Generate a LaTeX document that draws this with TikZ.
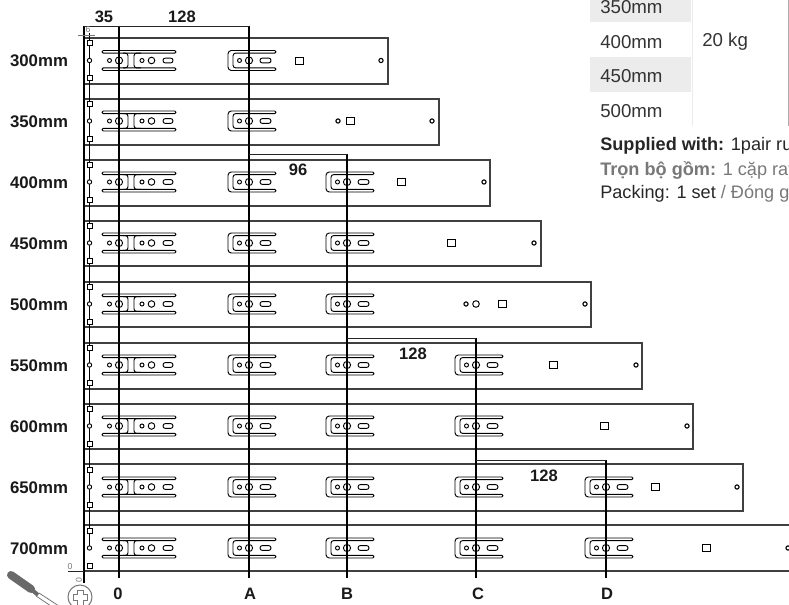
\documentclass[tikz,border=0pt]{standalone}
\usepackage{fontspec}
\setmainfont{Liberation Sans}
\usetikzlibrary{positioning,calc}
\definecolor{bandgray}{RGB}{236,236,236}
\definecolor{softgray}{RGB}{120,120,120}
\definecolor{tooldark}{RGB}{105,105,105}

\begin{document}
\begin{tikzpicture}[
    x=0.75pt, y=-0.75pt,
    rail/.style={draw=black!75, line width=0.85pt},
    dimline/.style={draw=black, line width=0.85pt},
    dimthin/.style={draw=black!85, line width=0.55pt},
    thinpart/.style={draw=black, line width=0.7pt},
    rowlabel/.style={font=\bfseries\fontsize{12.6}{14}\selectfont, text=black!90, inner sep=0pt},
    dimlabel/.style={font=\bfseries\fontsize{12.4}{14}\selectfont, text=black!90, inner sep=0pt},
    tabletext/.style={font=\fontsize{14}{16}\selectfont, text=black!80, inner sep=0pt, anchor=west},
    note/.style={font=\fontsize{13.6}{16}\selectfont, text=black!85, inner sep=0pt, anchor=west},
    faint/.style={font=\fontsize{6.5}{7}\selectfont, text=softgray, inner sep=0pt},
    % the two first brackets of every rail
    frontslot/.pic={
        \draw[thinpart, rounded corners=0.9pt, fill=white] (-17,-10) rectangle (57,-7.4);
        \draw[thinpart, rounded corners=0.9pt, fill=white] (-17,7.4) rectangle (57,10);
        \draw[thinpart, rounded corners=2pt] (4,-7.4) -- (9,-7.4) -- (9,7.4) -- (4,7.4);
        \draw[thinpart, rounded corners=2pt] (22,-7.4) -- (15,-7.4) -- (15,7.4) -- (22,7.4);
        \draw[thinpart] (-9.5,0) circle (2);
        \draw[thinpart] (0,0) circle (3.6);
        \draw[thinpart] (23,0) circle (2);
        \draw[thinpart] (32.5,0) circle (3.3);
        \draw[thinpart, rounded corners=1.7pt] (44,-2.4) rectangle (54,2.4);
    },
    % the bracket at each of A, B, C, D
    holeslot/.pic={
        \draw[thinpart, rounded corners=2.5pt] (20,-10) -- (-21,-10) -- (-21,10) -- (20,10)
            [rounded corners=0.9pt] -- (27,10) -- (27,7.4) -- (20,7.4)
            [rounded corners=2pt] -- (-16,7.4) -- (-16,-7.4) -- (20,-7.4)
            [rounded corners=0.9pt] -- (27,-7.4) -- (27,-10) -- cycle;
        \draw[thinpart] (-9.5,0) circle (2);
        \draw[thinpart] (0,0) circle (3.6);
        \draw[thinpart, rounded corners=1.7pt] (11,-2.4) rectangle (22,2.4);
    },
    % the three marks at the left end of a rail
    endmarks/.pic={
        \draw[thinpart, fill=white] (-2.5,-20) rectangle (2.5,-15);
        \draw[thinpart, fill=white] (0,0) circle (2.2);
        \draw[thinpart, fill=white] (-2.5,15) rectangle (2.5,20);
    },
    squarehole/.pic={\draw[thinpart, fill=white] (-4,-3.5) rectangle (4,3.5);},
    endhole/.pic={\draw[draw=black, line width=0.85pt] (0,0) circle (2.1);},
    ]
    \clip (0,0) rectangle (789,605);

    %% table on the top right
    \fill[bandgray] (590,0) rectangle (691,22);
    \fill[bandgray] (590,57) rectangle (691,92);
    \draw[bandgray, line width=0.75pt] (692.5,0) -- (692.5,126);
    \draw[softgray!60, line width=0.75pt] (788.5,0) -- (788.5,126);
    \node[tabletext] (t350) at (600,7) {350mm};
    \node[tabletext] (t400) at (600,42) {400mm};
    \node[tabletext] (t450) at (600,76) {450mm};
    \node[tabletext] (t500) at (600,111) {500mm};
    \node[tabletext] (load) at (702,42) {20 kg};
    \node[note] (supplied) at (600,146) {\textbf{Supplied with:} 1pair ru};
    \node[note, text=softgray] (tronbo) at (600,170) {\textbf{Trọn bộ gồm:} 1 cặp ray};
    \node[note] (packing) at (600,194) {Packing: 1 set \textcolor{softgray}{/ Đóng g}};

    %% rails
    \draw[rail] (84,38) rectangle (388,84);
    \draw[rail] (84,99) rectangle (439,145);
    \draw[rail] (84,160) rectangle (490,206);
    \draw[rail] (84,221) rectangle (541,266);
    \draw[rail] (84,282) rectangle (591,327);
    \draw[rail] (84,343) rectangle (642,389);
    \draw[rail] (84,404) rectangle (693,449);
    \draw[rail] (84,464) rectangle (743,511);
    \draw[rail] (84,525) rectangle (800,571);

    %% row labels
    \node[rowlabel] (r300) at (39,60.5) {300mm};
    \node[rowlabel] (r350) at (39,121.5) {350mm};
    \node[rowlabel] (r400) at (39,182.5) {400mm};
    \node[rowlabel] (r450) at (39,243.5) {450mm};
    \node[rowlabel] (r500) at (39,304.5) {500mm};
    \node[rowlabel] (r550) at (39,365.5) {550mm};
    \node[rowlabel] (r600) at (39,426.5) {600mm};
    \node[rowlabel] (r650) at (39,487.5) {650mm};
    \node[rowlabel] (r700) at (39,548.5) {700mm};

    %% thin line through the left end marks
    \coordinate (marktop) at (89.5,33);
    \coordinate (markend) at (89.5,548);
    \draw[thinpart] (marktop) -- (markend);
    \pic at (89.5,60.5) {endmarks};
    \pic at (89.5,121) {endmarks};
    \pic at (89.5,182) {endmarks};
    \pic at (89.5,243) {endmarks};
    \pic at (89.5,304) {endmarks};
    \pic at (89.5,365) {endmarks};
    \pic at (89.5,426) {endmarks};
    \pic at (89.5,487) {endmarks};
    \pic at (89.5,548) {endmarks};

    %% brackets on line 0
    \pic at (119,60.5) {frontslot};
    \pic at (119,121) {frontslot};
    \pic at (119,182) {frontslot};
    \pic at (119,243) {frontslot};
    \pic at (119,304) {frontslot};
    \pic at (119,365) {frontslot};
    \pic at (119,426) {frontslot};
    \pic at (119,487) {frontslot};
    \pic at (119,548) {frontslot};

    %% brackets on line A
    \pic at (249,60.5) {holeslot};
    \pic at (249,121) {holeslot};
    \pic at (249,182) {holeslot};
    \pic at (249,243) {holeslot};
    \pic at (249,304) {holeslot};
    \pic at (249,365) {holeslot};
    \pic at (249,426) {holeslot};
    \pic at (249,487) {holeslot};
    \pic at (249,548) {holeslot};

    %% brackets on line B
    \pic at (347,182) {holeslot};
    \pic at (347,243) {holeslot};
    \pic at (347,304) {holeslot};
    \pic at (347,365) {holeslot};
    \pic at (347,426) {holeslot};
    \pic at (347,487) {holeslot};
    \pic at (347,548) {holeslot};

    %% brackets on line C
    \pic at (476,365) {holeslot};
    \pic at (476,426) {holeslot};
    \pic at (476,487) {holeslot};
    \pic at (476,548) {holeslot};

    %% brackets on line D
    \pic at (606,487) {holeslot};
    \pic at (606,548) {holeslot};

    %% holes at the far end
    \pic at (299,60.5) {squarehole};
    \pic at (381,60.5) {endhole};
    \pic at (338,121) {endhole};
    \pic at (350,121) {squarehole};
    \pic at (432,121) {endhole};
    \pic at (401,182) {squarehole};
    \pic at (484,182) {endhole};
    \pic at (451,243) {squarehole};
    \pic at (534,243) {endhole};
    \pic at (466,304) {endhole};
    \draw[thinpart] (476,304) circle (3.3);
    \pic at (502,304) {squarehole};
    \pic at (585,304) {endhole};
    \pic at (553,365) {squarehole};
    \pic at (636,365) {endhole};
    \pic at (604,426) {squarehole};
    \pic at (687,426) {endhole};
    \pic at (655,487) {squarehole};
    \pic at (737,487) {endhole};
    \pic at (706,548) {squarehole};
    \pic at (788,548) {endhole};

    %% dimension lines
    \coordinate (o_top) at (84,26);
    \coordinate (o_end) at (84,583);
    \coordinate (n_top) at (119,26);
    \coordinate (n_end) at (119,578);
    \coordinate (a_top) at (249,26);
    \coordinate (a_mid) at (249,154);
    \coordinate (a_end) at (249,578);
    \coordinate (b_top) at (347,154);
    \coordinate (b_mid) at (347,338);
    \coordinate (b_end) at (347,578);
    \coordinate (c_top) at (476,338);
    \coordinate (c_mid) at (476,460);
    \coordinate (c_end) at (476,578);
    \coordinate (d_top) at (606,460);
    \coordinate (d_end) at (606,578);
    \draw[dimline] (o_top) -- (o_end);
    \draw[dimline] (n_top) -- (n_end);
    \draw[dimline] (a_top) -- (a_end);
    \draw[dimline] (b_top) -- (b_end);
    \draw[dimline] (c_top) -- (c_end);
    \draw[dimline] (d_top) -- (d_end);
    \draw[dimthin] (o_top) -- (a_top);
    \draw[dimthin] (a_mid) -- (b_top);
    \draw[dimthin] (b_mid) -- (c_top);
    \draw[dimthin] (c_mid) -- (d_top);

    %% dimension values
    \node[dimlabel] (d35) at (104,17) {35};
    \node[dimlabel] (d128a) at (182,17) {128};
    \node[dimlabel] (d96) at (298,170) {96};
    \node[dimlabel] (d128b) at (413,354) {128};
    \node[dimlabel] (d128c) at (544,476) {128};
    \node[dimlabel] (l0) at (118,594) {0};
    \node[dimlabel] (lA) at (250,594) {A};
    \node[dimlabel] (lB) at (347,594) {B};
    \node[dimlabel] (lC) at (478,594) {C};
    \node[dimlabel] (lD) at (607,594) {D};

    %% small marks at the corners
    \coordinate (tick_l) at (78,35);
    \coordinate (tick_r) at (95,35);
    \coordinate (base_l) at (68,571);
    \coordinate (base_r) at (84,571);
    \draw[softgray, line width=0.5pt] (tick_l) -- (tick_r);
    \draw[black!85, line width=0.6pt] (base_l) -- (base_r);
    \node[faint] (six) at (88,30) {6};
    \node[faint] (zero_a) at (70,567) {0};
    \node[faint, rotate=90] (zero_b) at (79,580.5) {0};

    %% screwdriver and screw
    \draw[tooldark, line width=6pt, line cap=round] (11,575) -- (31,589);
    \draw[tooldark, line width=3pt] (31,589) -- (38,595);
    \draw[softgray, line width=0.6pt] (36,596) -- (57,610);
    \draw[softgray, line width=0.6pt] (39,593) -- (62,608);
    \draw[softgray, line width=0.75pt] (80,597) circle (12);
    \draw[softgray, line width=0.6pt] (77,590) -- (83,590) -- (83,594) -- (87,594) -- (87,600) -- (83,600) -- (83,605)
        -- (77,605) -- (77,600) -- (73,600) -- (73,594) -- (77,594) -- cycle;
\end{tikzpicture}
\end{document}
